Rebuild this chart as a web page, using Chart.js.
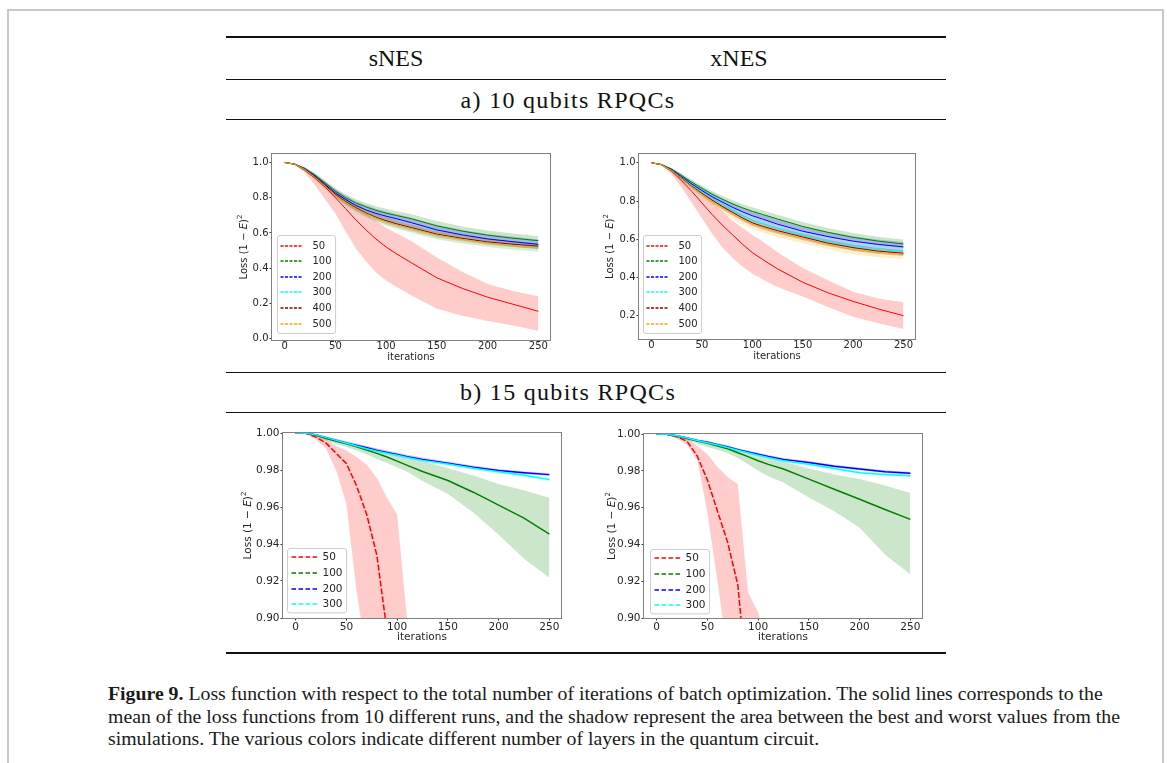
<!DOCTYPE html>
<html lang="en">
<head>
<meta charset="utf-8">
<title>Figure 9 - loss vs iterations</title>
<script src="https://cdn.jsdelivr.net/npm/chart.js@4.4.1/dist/chart.umd.min.js"></script>
<style>
    html, body { margin: 0; padding: 0; background: #fff; }
    body { position: relative; width: 1167px; height: 763px; overflow: hidden; }
    #sheet { position: absolute; left: 7px; top: 9px; width: 1157px; height: 820px; border: 2px solid #c8c8c8; box-sizing: border-box; }
    .rule { position: absolute; left: 226px; width: 720px; height: 1px; background: #111; }
    .rule.thick { height: 2px; }
    .head { position: absolute; font-family: "Liberation Serif", "Times New Roman", serif; font-size: 24px; line-height: 1; color: #111; white-space: nowrap; transform: translate(-50%, -50%); }
    .head.wide { letter-spacing: 1.3px; }
    .panel { position: absolute; }
    #caption { position: absolute; left: 108px; top: 682px; font-family: "Liberation Serif", serif; font-size: 19.8px; line-height: 22.5px; color: #1a1a1a; white-space: nowrap; }
</style>
</head>
<body>
<div id="sheet"></div>

<div class="rule thick" style="top:36px"></div>
<div class="head" style="left:396px; top:58px">sNES</div>
<div class="head" style="left:739px; top:58px">xNES</div>
<div class="rule" style="top:79px"></div>
<div class="head wide" style="left:568px; top:100px">a) 10 qubits RPQCs</div>
<div class="rule" style="top:119px"></div>

<canvas id="snes10" class="panel"></canvas>
<canvas id="xnes10" class="panel"></canvas>

<div class="rule" style="top:372px"></div>
<div class="head wide" style="left:568px; top:392px">b) 15 qubits RPQCs</div>
<div class="rule" style="top:412px"></div>

<canvas id="snes15" class="panel"></canvas>
<canvas id="xnes15" class="panel"></canvas>

<div class="rule thick" style="top:652px"></div>

<div id="caption"><b>Figure 9.</b> Loss function with respect to the total number of iterations of batch optimization. The solid lines corresponds to the<br>mean of the loss functions from 10 different runs, and the shadow represent the area between the best and worst values from the<br>simulations. The various colors indicate different number of layers in the quantum circuit.</div>

<script>
// --- Data ---
const iterations = [0, 10, 20, 30, 40, 50, 60, 70, 80, 90, 100, 110, 125, 150, 175, 200, 225, 250];
const layers10 = ['50', '100', '200', '300', '400', '500'];
const layers15 = ['50', '100', '200', '300'];
const xTicks = [0, 50, 100, 150, 200, 250];
const yTicksSnes10 = [0.0, 0.2, 0.4, 0.6, 0.8, 1.0];
const yTicksXnes10 = [0.2, 0.4, 0.6, 0.8, 1.0];
const yTicks15 = [0.90, 0.92, 0.94, 0.96, 0.98, 1.00];

// sNES, 10 qubits
const snes10Mean50 = [1.000, 0.990, 0.955, 0.910, 0.860, 0.800, 0.738, 0.675, 0.618, 0.565, 0.520, 0.482, 0.430, 0.345, 0.285, 0.235, 0.195, 0.155];
const snes10Low50 = [1.000, 0.985, 0.940, 0.870, 0.790, 0.710, 0.610, 0.515, 0.440, 0.375, 0.330, 0.295, 0.245, 0.170, 0.130, 0.100, 0.075, 0.045];
const snes10High50 = [1.000, 0.995, 0.968, 0.930, 0.890, 0.845, 0.800, 0.755, 0.710, 0.668, 0.630, 0.598, 0.552, 0.460, 0.380, 0.310, 0.270, 0.240];
const snes10Mean100 = [1.000, 0.991, 0.966, 0.928, 0.882, 0.837, 0.800, 0.770, 0.748, 0.728, 0.712, 0.699, 0.680, 0.640, 0.610, 0.587, 0.570, 0.556];
const snes10Low100 = [1.000, 0.988, 0.958, 0.915, 0.866, 0.818, 0.780, 0.748, 0.724, 0.703, 0.686, 0.672, 0.652, 0.612, 0.582, 0.560, 0.545, 0.533];
const snes10High100 = [1.000, 0.994, 0.972, 0.940, 0.897, 0.855, 0.820, 0.792, 0.770, 0.752, 0.737, 0.724, 0.706, 0.667, 0.637, 0.613, 0.596, 0.582];
const snes10Mean200 = [1.000, 0.990, 0.963, 0.922, 0.874, 0.826, 0.790, 0.757, 0.731, 0.711, 0.695, 0.681, 0.658, 0.617, 0.589, 0.566, 0.550, 0.535];
const snes10Low200 = [1.000, 0.986, 0.954, 0.907, 0.855, 0.805, 0.767, 0.732, 0.704, 0.684, 0.667, 0.652, 0.628, 0.588, 0.560, 0.538, 0.521, 0.507];
const snes10High200 = [1.000, 0.994, 0.971, 0.935, 0.891, 0.846, 0.812, 0.781, 0.757, 0.737, 0.722, 0.708, 0.686, 0.645, 0.617, 0.594, 0.578, 0.563];
const snes10Mean300 = [1.000, 0.990, 0.960, 0.916, 0.866, 0.816, 0.776, 0.741, 0.712, 0.686, 0.666, 0.649, 0.627, 0.591, 0.566, 0.546, 0.532, 0.520];
const snes10Low300 = [1.000, 0.986, 0.950, 0.900, 0.847, 0.795, 0.753, 0.717, 0.687, 0.661, 0.640, 0.623, 0.600, 0.563, 0.538, 0.518, 0.503, 0.492];
const snes10High300 = [1.000, 0.994, 0.969, 0.930, 0.884, 0.836, 0.797, 0.763, 0.735, 0.710, 0.690, 0.673, 0.651, 0.615, 0.590, 0.570, 0.556, 0.545];
const snes10Mean400 = [1.000, 0.990, 0.960, 0.917, 0.868, 0.818, 0.778, 0.743, 0.714, 0.689, 0.669, 0.652, 0.630, 0.593, 0.569, 0.549, 0.536, 0.525];
const snes10Low400 = [1.000, 0.987, 0.953, 0.906, 0.854, 0.803, 0.762, 0.726, 0.696, 0.670, 0.650, 0.633, 0.611, 0.575, 0.552, 0.533, 0.520, 0.510];
const snes10High400 = [1.000, 0.993, 0.967, 0.928, 0.882, 0.833, 0.794, 0.760, 0.732, 0.708, 0.688, 0.671, 0.649, 0.611, 0.586, 0.565, 0.552, 0.540];
const snes10Mean500 = [1.000, 0.990, 0.959, 0.914, 0.864, 0.813, 0.773, 0.738, 0.709, 0.684, 0.663, 0.646, 0.624, 0.588, 0.563, 0.543, 0.528, 0.515];
const snes10Low500 = [1.000, 0.986, 0.950, 0.900, 0.847, 0.795, 0.754, 0.718, 0.688, 0.662, 0.641, 0.624, 0.602, 0.566, 0.541, 0.521, 0.507, 0.497];
const snes10High500 = [1.000, 0.994, 0.968, 0.928, 0.881, 0.831, 0.792, 0.758, 0.730, 0.706, 0.685, 0.668, 0.646, 0.610, 0.585, 0.565, 0.550, 0.537];

// xNES, 10 qubits
const xnes10Mean50 = [1.000, 0.990, 0.955, 0.905, 0.850, 0.790, 0.730, 0.675, 0.625, 0.575, 0.530, 0.495, 0.445, 0.375, 0.320, 0.275, 0.235, 0.200];
const xnes10Low50 = [1.000, 0.985, 0.940, 0.870, 0.790, 0.710, 0.630, 0.560, 0.505, 0.458, 0.420, 0.390, 0.350, 0.300, 0.245, 0.195, 0.160, 0.130];
const xnes10High50 = [1.000, 0.995, 0.968, 0.933, 0.890, 0.848, 0.800, 0.748, 0.700, 0.660, 0.622, 0.590, 0.532, 0.450, 0.385, 0.325, 0.290, 0.270];
const xnes10Mean100 = [1.000, 0.991, 0.967, 0.933, 0.898, 0.866, 0.836, 0.810, 0.786, 0.765, 0.746, 0.730, 0.706, 0.667, 0.636, 0.610, 0.590, 0.575];
const xnes10Low100 = [1.000, 0.988, 0.960, 0.922, 0.884, 0.850, 0.818, 0.791, 0.766, 0.744, 0.724, 0.707, 0.683, 0.644, 0.613, 0.588, 0.568, 0.553];
const xnes10High100 = [1.000, 0.994, 0.973, 0.943, 0.911, 0.881, 0.853, 0.828, 0.805, 0.785, 0.767, 0.752, 0.728, 0.690, 0.659, 0.633, 0.613, 0.598];
const xnes10Mean200 = [1.000, 0.990, 0.963, 0.926, 0.889, 0.855, 0.823, 0.795, 0.768, 0.744, 0.723, 0.706, 0.679, 0.642, 0.614, 0.590, 0.573, 0.560];
const xnes10Low200 = [1.000, 0.987, 0.954, 0.913, 0.873, 0.836, 0.802, 0.772, 0.744, 0.719, 0.697, 0.680, 0.653, 0.616, 0.588, 0.565, 0.548, 0.535];
const xnes10High200 = [1.000, 0.993, 0.971, 0.938, 0.904, 0.872, 0.842, 0.815, 0.790, 0.767, 0.747, 0.730, 0.704, 0.667, 0.639, 0.615, 0.598, 0.585];
const xnes10Mean300 = [1.000, 0.990, 0.960, 0.920, 0.881, 0.846, 0.811, 0.780, 0.751, 0.721, 0.696, 0.680, 0.655, 0.620, 0.588, 0.562, 0.546, 0.535];
const xnes10Low300 = [1.000, 0.986, 0.951, 0.906, 0.864, 0.827, 0.790, 0.758, 0.728, 0.698, 0.672, 0.656, 0.631, 0.596, 0.565, 0.540, 0.524, 0.513];
const xnes10High300 = [1.000, 0.994, 0.968, 0.933, 0.897, 0.864, 0.831, 0.801, 0.773, 0.744, 0.720, 0.704, 0.679, 0.644, 0.611, 0.584, 0.568, 0.557];
const xnes10Mean400 = [1.000, 0.990, 0.959, 0.918, 0.877, 0.840, 0.805, 0.772, 0.742, 0.712, 0.686, 0.668, 0.645, 0.612, 0.580, 0.556, 0.538, 0.527];
const xnes10Low400 = [1.000, 0.987, 0.952, 0.908, 0.865, 0.826, 0.790, 0.756, 0.725, 0.695, 0.669, 0.651, 0.628, 0.595, 0.564, 0.540, 0.523, 0.512];
const xnes10High400 = [1.000, 0.993, 0.966, 0.928, 0.889, 0.854, 0.820, 0.788, 0.759, 0.729, 0.703, 0.685, 0.662, 0.629, 0.597, 0.572, 0.554, 0.543];
const xnes10Mean500 = [1.000, 0.990, 0.958, 0.916, 0.873, 0.835, 0.799, 0.765, 0.733, 0.704, 0.679, 0.662, 0.638, 0.605, 0.572, 0.545, 0.530, 0.520];
const xnes10Low500 = [1.000, 0.986, 0.949, 0.902, 0.856, 0.815, 0.777, 0.742, 0.709, 0.679, 0.653, 0.636, 0.612, 0.579, 0.547, 0.521, 0.506, 0.497];
const xnes10High500 = [1.000, 0.994, 0.966, 0.928, 0.888, 0.852, 0.818, 0.785, 0.754, 0.726, 0.702, 0.686, 0.662, 0.629, 0.596, 0.569, 0.554, 0.544];

// sNES, 15 qubits (the 50-layer run leaves the axis range early)
const snes15Mean50 = [1.0000, 0.9998, 0.9978, 0.9945, 0.9890, 0.9835, 0.9715, 0.9560, 0.9340, 0.8930, 0.8500, 0.8000, null, null, null, null, null, null];
const snes15Low50 = [1.0000, 0.9996, 0.9965, 0.9915, 0.9797, 0.9616, 0.9145, 0.8800, 0.8500, 0.8200, 0.7900, 0.7600, null, null, null, null, null, null];
const snes15High50 = [1.0000, 1.0000, 0.9993, 0.9965, 0.9930, 0.9906, 0.9870, 0.9830, 0.9755, 0.9650, 0.9560, 0.8980, null, null, null, null, null, null];
const snes15Mean100 = [1.0000, 0.9998, 0.9988, 0.9970, 0.9955, 0.9942, 0.9925, 0.9908, 0.9890, 0.9870, 0.9848, 0.9825, 0.9792, 0.9743, 0.9680, 0.9610, 0.9540, 0.9453];
const snes15Low100 = [1.0000, 0.9995, 0.9980, 0.9960, 0.9940, 0.9925, 0.9905, 0.9885, 0.9860, 0.9838, 0.9815, 0.9790, 0.9740, 0.9670, 0.9570, 0.9450, 0.9320, 0.9217];
const snes15High100 = [1.0000, 1.0000, 0.9992, 0.9980, 0.9968, 0.9958, 0.9945, 0.9930, 0.9915, 0.9900, 0.9885, 0.9870, 0.9850, 0.9810, 0.9770, 0.9725, 0.9690, 0.9650];
const snes15Mean200 = [1.0000, 0.9998, 0.9990, 0.9975, 0.9960, 0.9945, 0.9932, 0.9920, 0.9906, 0.9895, 0.9884, 0.9872, 0.9857, 0.9837, 0.9815, 0.9797, 0.9785, 0.9775];
const snes15Low200 = [1.0000, 0.9996, 0.9986, 0.9970, 0.9954, 0.9939, 0.9926, 0.9913, 0.9899, 0.9888, 0.9877, 0.9865, 0.9850, 0.9830, 0.9808, 0.9790, 0.9778, 0.9768];
const snes15High200 = [1.0000, 1.0000, 0.9994, 0.9981, 0.9967, 0.9953, 0.9941, 0.9929, 0.9916, 0.9905, 0.9894, 0.9882, 0.9867, 0.9846, 0.9824, 0.9805, 0.9793, 0.9783];
const snes15Mean300 = [1.0000, 0.9998, 0.9990, 0.9975, 0.9960, 0.9945, 0.9930, 0.9915, 0.9901, 0.9890, 0.9880, 0.9868, 0.9852, 0.9833, 0.9810, 0.9790, 0.9772, 0.9748];
const snes15Low300 = [1.0000, 0.9996, 0.9986, 0.9969, 0.9953, 0.9937, 0.9922, 0.9907, 0.9893, 0.9882, 0.9871, 0.9859, 0.9843, 0.9824, 0.9801, 0.9781, 0.9763, 0.9738];
const snes15High300 = [1.0000, 1.0000, 0.9994, 0.9980, 0.9966, 0.9952, 0.9938, 0.9923, 0.9909, 0.9898, 0.9888, 0.9876, 0.9860, 0.9841, 0.9818, 0.9798, 0.9781, 0.9757];

// xNES, 15 qubits
const xnes15Mean50 = [1.0000, 0.9998, 0.9985, 0.9960, 0.9880, 0.9750, 0.9580, 0.9410, 0.9180, 0.8600, 0.8000, 0.7400, null, null, null, null, null, null];
const xnes15Low50 = [1.0000, 0.9996, 0.9975, 0.9940, 0.9860, 0.9570, 0.9200, 0.8800, 0.8500, 0.8200, 0.7800, 0.7300, null, null, null, null, null, null];
const xnes15High50 = [1.0000, 1.0000, 0.9993, 0.9975, 0.9935, 0.9890, 0.9820, 0.9765, 0.9727, 0.9140, 0.9030, 0.8850, null, null, null, null, null, null];
const xnes15Mean100 = [1.0000, 0.9998, 0.9988, 0.9975, 0.9962, 0.9950, 0.9935, 0.9920, 0.9898, 0.9877, 0.9855, 0.9835, 0.9810, 0.9755, 0.9700, 0.9645, 0.9590, 0.9536];
const xnes15Low100 = [1.0000, 0.9995, 0.9980, 0.9965, 0.9950, 0.9930, 0.9915, 0.9895, 0.9870, 0.9835, 0.9800, 0.9770, 0.9736, 0.9655, 0.9580, 0.9490, 0.9345, 0.9236];
const xnes15High100 = [1.0000, 1.0000, 0.9992, 0.9982, 0.9970, 0.9960, 0.9950, 0.9938, 0.9922, 0.9905, 0.9890, 0.9875, 0.9850, 0.9812, 0.9780, 0.9755, 0.9720, 0.9680];
const xnes15Mean200 = [1.0000, 0.9998, 0.9990, 0.9978, 0.9965, 0.9955, 0.9942, 0.9930, 0.9915, 0.9902, 0.9890, 0.9878, 0.9862, 0.9845, 0.9825, 0.9810, 0.9795, 0.9787];
const xnes15Low200 = [1.0000, 0.9996, 0.9985, 0.9972, 0.9958, 0.9948, 0.9935, 0.9923, 0.9908, 0.9895, 0.9883, 0.9871, 0.9855, 0.9838, 0.9818, 0.9803, 0.9788, 0.9780];
const xnes15High200 = [1.0000, 1.0000, 0.9994, 0.9984, 0.9972, 0.9963, 0.9950, 0.9938, 0.9923, 0.9910, 0.9898, 0.9886, 0.9870, 0.9853, 0.9833, 0.9818, 0.9803, 0.9795];
const xnes15Mean300 = [1.0000, 0.9998, 0.9990, 0.9978, 0.9965, 0.9953, 0.9940, 0.9927, 0.9912, 0.9898, 0.9885, 0.9872, 0.9855, 0.9836, 0.9812, 0.9790, 0.9780, 0.9773];
const xnes15Low300 = [1.0000, 0.9996, 0.9985, 0.9972, 0.9958, 0.9946, 0.9933, 0.9920, 0.9905, 0.9891, 0.9878, 0.9865, 0.9848, 0.9829, 0.9805, 0.9783, 0.9773, 0.9766];
const xnes15High300 = [1.0000, 1.0000, 0.9994, 0.9984, 0.9972, 0.9960, 0.9947, 0.9934, 0.9919, 0.9905, 0.9892, 0.9879, 0.9862, 0.9843, 0.9819, 0.9797, 0.9787, 0.9780];

// --- Styles ---
const layerColors = ['#ff0000', '#008000', '#0000ff', '#00ffff', '#8b0000', '#ffa500'];
const TEXT_COLOR = '#262626';
const FONT = '"DejaVu Sans", sans-serif';

// --- Helpers ---
function toPoints(values) {
    return iterations.map((x, i) => ({ x: x, y: values[i] }));
}

function withAlpha(hex, a) {
    const n = parseInt(hex.slice(1), 16);
    return `rgba(${(n >> 16) & 255}, ${(n >> 8) & 255}, ${n & 255}, ${a})`;
}

// Mean lines first (drawn on top), then the min/max bands underneath.
function buildDatasets(series, lineWidth) {
    const lines = [];
    const bands = [];
    series.forEach(s => {
        lines.unshift({
            data: toPoints(s.mean),
            borderColor: s.color,
            borderWidth: lineWidth,
            borderDash: s.dash || [],
            pointRadius: 0,
            fill: false
        });
    });
    series.slice().reverse().forEach(s => {
        bands.push({
            data: toPoints(s.low),
            borderColor: 'rgba(0,0,0,0)',
            borderWidth: 0,
            pointRadius: 0,
            fill: false
        });
        bands.push({
            data: toPoints(s.high),
            borderColor: 'rgba(0,0,0,0)',
            borderWidth: 0,
            pointRadius: 0,
            backgroundColor: withAlpha(s.color, 0.2),
            fill: '-1'
        });
    });
    return lines.concat(bands);
}

function drawYTitle(ctx, x, y, size) {
    // "Loss (1 − E)²" with italic E and a raised 2
    const parts = [
        { t: 'Loss (1 \u2212 ', f: `${size}px ${FONT}`, dy: 0 },
        { t: 'E', f: `italic ${size}px ${FONT}`, dy: 0 },
        { t: ')', f: `${size}px ${FONT}`, dy: 0 },
        { t: '2', f: `${Math.round(size * 0.7)}px ${FONT}`, dy: -size * 0.38 }
    ];
    ctx.save();
    ctx.translate(x, y);
    ctx.rotate(-Math.PI / 2);
    ctx.fillStyle = TEXT_COLOR;
    ctx.textBaseline = 'middle';
    ctx.textAlign = 'left';
    let total = 0;
    parts.forEach(p => { ctx.font = p.f; p.w = ctx.measureText(p.t).width; total += p.w; });
    let cx = -total / 2;
    parts.forEach(p => { ctx.font = p.f; ctx.fillText(p.t, cx, p.dy); cx += p.w; });
    ctx.restore();
}

function drawLegend(ctx, area, lg, items, size) {
    ctx.save();
    ctx.font = `${size}px ${FONT}`;
    const textW = Math.max(...items.map(it => ctx.measureText(it.label).width));
    const w = lg.padX + lg.sample + lg.gap + textW + 4;
    const h = lg.padY * 2 + lg.rowH * (items.length - 1);
    const x = Math.round(area.left + lg.dx) + 0.5;
    const y = Math.round(area.bottom - lg.dy - h) + 0.5;
    ctx.beginPath();
    ctx.roundRect(x, y, w, h, 2.5);
    ctx.fillStyle = 'rgba(255,255,255,0.8)';
    ctx.fill();
    ctx.strokeStyle = '#cccccc';
    ctx.lineWidth = 1;
    ctx.stroke();
    items.forEach((it, i) => {
        const cy = Math.round(y + lg.padY + i * lg.rowH);
        ctx.beginPath();
        ctx.setLineDash(lg.dash);
        ctx.strokeStyle = it.color;
        ctx.lineWidth = lg.lineWidth;
        ctx.moveTo(x + lg.padX, cy);
        ctx.lineTo(x + lg.padX + lg.sample, cy);
        ctx.stroke();
        ctx.setLineDash([]);
        ctx.fillStyle = TEXT_COLOR;
        ctx.textBaseline = 'middle';
        ctx.textAlign = 'left';
        ctx.fillText(it.label, x + lg.padX + lg.sample + lg.gap, cy + 0.5);
    });
    ctx.restore();
}

// Frame, axis titles and an in-axes legend, drawn like the matplotlib originals
const panelDecor = {
    id: 'panelDecor',
    afterDatasetsDraw(chart, args, opts) {
        const { ctx, chartArea: a } = chart;
        ctx.save();
        ctx.strokeStyle = '#808080';
        ctx.lineWidth = 1;
        ctx.strokeRect(a.left - 0.5, a.top - 0.5, a.right - a.left + 1, a.bottom - a.top + 1);
        ctx.restore();

        drawYTitle(ctx, a.left - opts.yTitleGap, (a.top + a.bottom) / 2, opts.fontSize);

        ctx.save();
        ctx.font = `${opts.fontSize}px ${FONT}`;
        ctx.fillStyle = TEXT_COLOR;
        ctx.textAlign = 'center';
        ctx.textBaseline = 'middle';
        ctx.fillText('iterations', (a.left + a.right) / 2, a.bottom + opts.xTitleGap);
        ctx.restore();

        drawLegend(ctx, a, opts.legend, opts.items, opts.fontSize);
    }
};

function makePanel(p) {
    const canvas = document.getElementById(p.id);
    canvas.width = p.width;
    canvas.height = p.height;
    canvas.style.left = p.left + 'px';
    canvas.style.top = p.top + 'px';

    const items = p.series.map(s => ({ label: s.label, color: s.color }));
    const tickFont = { family: FONT, size: p.fontSize };

    return new Chart(canvas.getContext('2d'), {
        type: 'line',
        data: { datasets: buildDatasets(p.series, p.lineWidth) },
        options: {
            responsive: false,
            animation: false,
            devicePixelRatio: 1,
            events: [],
            layout: { padding: { top: p.padTop, right: p.padRight, left: 0, bottom: 0 } },
            elements: { line: { tension: 0 } },
            plugins: {
                legend: { display: false },
                tooltip: { enabled: false },
                panelDecor: { yTitleGap: p.yTitleGap, xTitleGap: p.xTitleGap, legend: p.legend, items: items, fontSize: p.fontSize }
            },
            scales: {
                x: {
                    type: 'linear',
                    min: -12.45,
                    max: 261.45,
                    afterBuildTicks: scale => { scale.ticks = xTicks.map(v => ({ value: v })); },
                    afterFit: scale => { scale.height = p.xAxisH; scale.paddingLeft = 0; scale.paddingRight = 0; },
                    border: { display: false },
                    grid: { drawOnChartArea: false, tickLength: 2.5, tickColor: '#333', tickWidth: 1 },
                    ticks: {
                        autoSkip: false, maxRotation: 0, padding: p.xTickPad,
                        color: TEXT_COLOR, font: tickFont,
                        callback: v => String(v)
                    }
                },
                y: {
                    min: p.yMin,
                    max: p.yMax,
                    afterBuildTicks: scale => { scale.ticks = p.yTicks.map(v => ({ value: v })); },
                    afterFit: scale => { scale.width = p.yAxisW; scale.paddingTop = 0; scale.paddingBottom = 0; },
                    border: { display: false },
                    grid: { drawOnChartArea: false, tickLength: 2.5, tickColor: '#333', tickWidth: 1 },
                    ticks: {
                        padding: 1,
                        color: TEXT_COLOR, font: tickFont,
                        callback: v => v.toFixed(p.yDecimals)
                    }
                }
            }
        },
        plugins: [panelDecor]
    });
}

function seriesOf(labels, means, lows, highs, dashes) {
    return labels.map((label, i) => ({
        label: label,
        color: layerColors[i],
        mean: means[i],
        low: lows[i],
        high: highs[i],
        dash: dashes ? dashes[i] : []
    }));
}

const legendSmall = { padX: 3, sample: 22, gap: 10, padY: 10, rowH: 15.6, dash: [3, 1.5], lineWidth: 1.3 };
const legendLarge = { padX: 4, sample: 26, gap: 5, padY: 8.5, rowH: 15.8, dash: [4.5, 2.5], lineWidth: 1.5 };
const dashes15 = [[6, 2], [], [], []];

const PANELS = [
    {
        id: 'snes10', left: 232, top: 148, width: 324, height: 218,
        yAxisW: 40, xAxisH: 26, padTop: 6, padRight: 6, fontSize: 10,
        yMin: -0.008, yMax: 1.048, yTicks: yTicksSnes10, yDecimals: 1,
        xTickPad: -2.5, yTitleGap: 28, xTitleGap: 17, lineWidth: 1,
        legend: Object.assign({ dx: 5, dy: 7 }, legendSmall),
        series: seriesOf(layers10,
            [snes10Mean50, snes10Mean100, snes10Mean200, snes10Mean300, snes10Mean400, snes10Mean500],
            [snes10Low50, snes10Low100, snes10Low200, snes10Low300, snes10Low400, snes10Low500],
            [snes10High50, snes10High100, snes10High200, snes10High300, snes10High400, snes10High500])
    },
    {
        id: 'xnes10', left: 599, top: 148, width: 322, height: 217,
        yAxisW: 40, xAxisH: 26, padTop: 6, padRight: 6, fontSize: 10,
        yMin: 0.078, yMax: 1.046, yTicks: yTicksXnes10, yDecimals: 1,
        xTickPad: -2.5, yTitleGap: 29, xTitleGap: 17, lineWidth: 1,
        legend: Object.assign({ dx: 4, dy: 6 }, legendSmall),
        series: seriesOf(layers10,
            [xnes10Mean50, xnes10Mean100, xnes10Mean200, xnes10Mean300, xnes10Mean400, xnes10Mean500],
            [xnes10Low50, xnes10Low100, xnes10Low200, xnes10Low300, xnes10Low400, xnes10Low500],
            [xnes10High50, xnes10High100, xnes10High200, xnes10High300, xnes10High400, xnes10High500])
    },
    {
        id: 'snes15', left: 231, top: 427, width: 336, height: 219,
        yAxisW: 52, xAxisH: 28, padTop: 6, padRight: 6, fontSize: 10.5,
        yMin: 0.90, yMax: 1.00, yTicks: yTicks15, yDecimals: 2,
        xTickPad: 0, yTitleGap: 35, xTitleGap: 19, lineWidth: 1.5,
        legend: Object.assign({ dx: 4, dy: 6 }, legendLarge),
        series: seriesOf(layers15,
            [snes15Mean50, snes15Mean100, snes15Mean200, snes15Mean300],
            [snes15Low50, snes15Low100, snes15Low200, snes15Low300],
            [snes15High50, snes15High100, snes15High200, snes15High300], dashes15)
    },
    {
        id: 'xnes15', left: 592, top: 428, width: 336, height: 218,
        yAxisW: 52, xAxisH: 28, padTop: 6, padRight: 6, fontSize: 10.5,
        yMin: 0.90, yMax: 1.00, yTicks: yTicks15, yDecimals: 2,
        xTickPad: 0, yTitleGap: 32, xTitleGap: 19, lineWidth: 1.5,
        legend: Object.assign({ dx: 6, dy: 5 }, legendLarge),
        series: seriesOf(layers15,
            [xnes15Mean50, xnes15Mean100, xnes15Mean200, xnes15Mean300],
            [xnes15Low50, xnes15Low100, xnes15Low200, xnes15Low300],
            [xnes15High50, xnes15High100, xnes15High200, xnes15High300], dashes15)
    }
];

PANELS.forEach(makePanel);
</script>
</body>
</html>
